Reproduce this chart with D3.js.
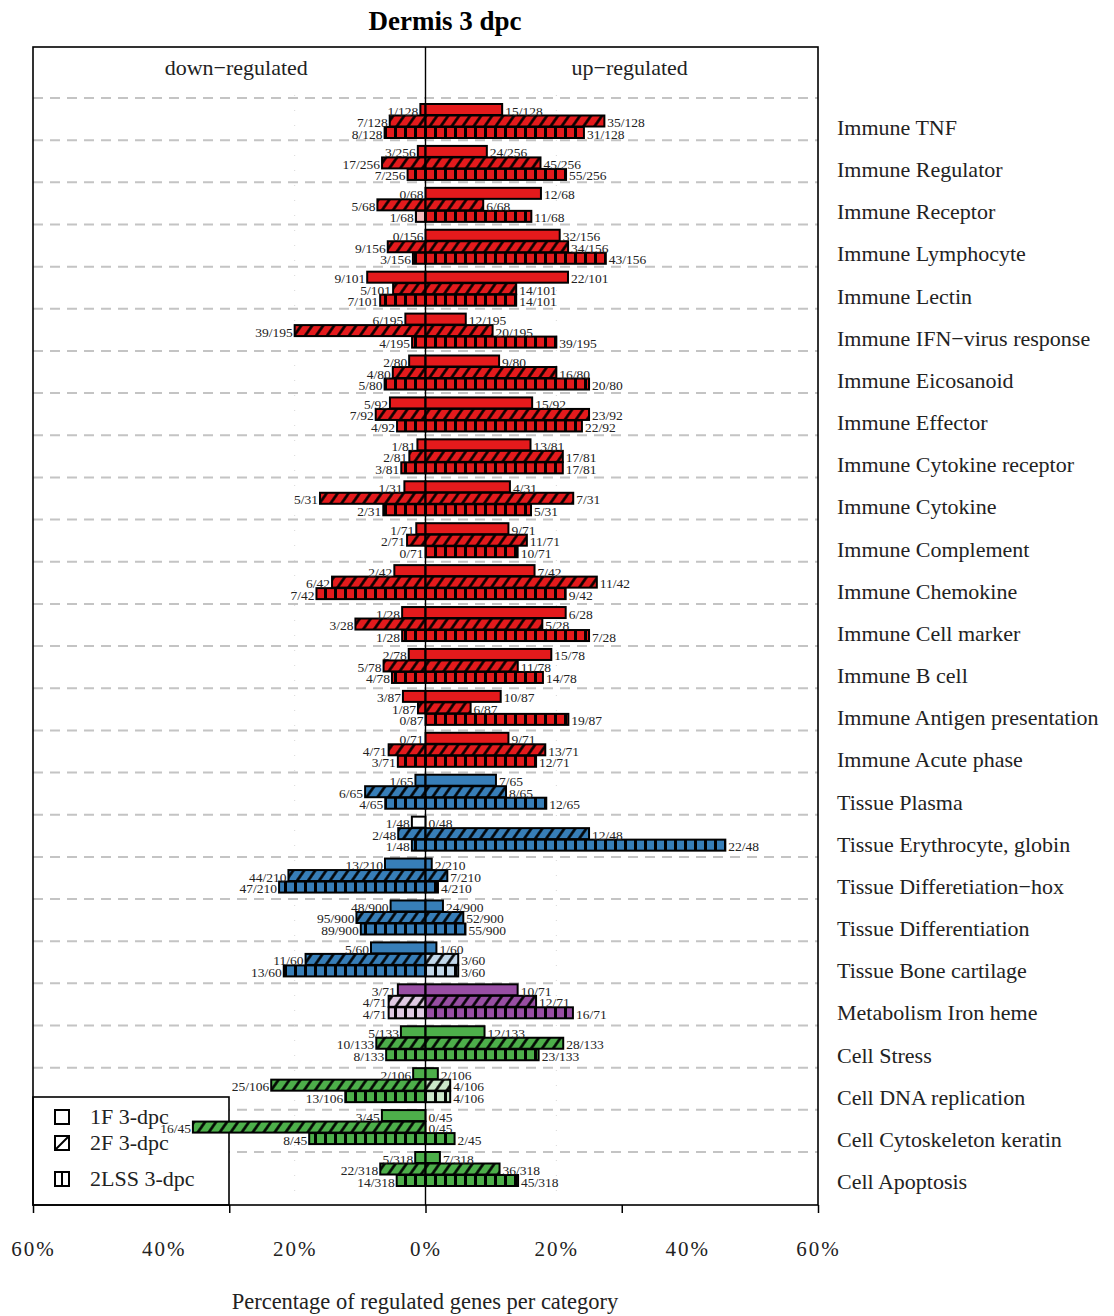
<!DOCTYPE html>
<html>
<head>
<meta charset="utf-8">
<script src="https://cdn.jsdelivr.net/npm/d3@7"></script>
<style>
  body { margin: 0; background: #fff; }
  svg { display: block; }
  text { font-family: "Liberation Serif", "Times New Roman", serif; fill: #222; }
</style>
</head>
<body>
<div id="chart"></div>
<script>
// categories, top to bottom
var categories = ["Immune TNF", "Immune Regulator", "Immune Receptor", "Immune Lymphocyte", "Immune Lectin",
  "Immune IFN\u2212virus response", "Immune Eicosanoid", "Immune Effector", "Immune Cytokine receptor",
  "Immune Cytokine", "Immune Complement", "Immune Chemokine", "Immune Cell marker", "Immune B cell",
  "Immune Antigen presentation", "Immune Acute phase", "Tissue Plasma", "Tissue Erythrocyte, globin",
  "Tissue Differetiation\u2212hox", "Tissue Differentiation", "Tissue Bone cartilage", "Metabolism Iron heme",
  "Cell Stress", "Cell DNA replication", "Cell Cytoskeleton keratin", "Cell Apoptosis"];
// genes per category
var totals = [128, 256, 68, 156, 101, 195, 80, 92, 81, 31, 71, 42, 28, 78, 87, 71, 65, 48, 210, 900, 60, 71, 133, 106, 45, 318];
// regulated gene counts per series
var down1F   = [1, 3, 0, 0, 9, 6, 2, 5, 1, 1, 1, 2, 1, 2, 3, 0, 1, 1, 13, 48, 5, 3, 5, 2, 3, 5];
var up1F     = [15, 24, 12, 32, 22, 12, 9, 15, 13, 4, 9, 7, 6, 15, 10, 9, 7, 0, 2, 24, 1, 10, 12, 2, 0, 7];
var down2F   = [7, 17, 5, 9, 5, 39, 4, 7, 2, 5, 2, 6, 3, 5, 1, 4, 6, 2, 44, 95, 11, 4, 10, 25, 16, 22];
var up2F     = [35, 45, 6, 34, 14, 20, 16, 23, 17, 7, 11, 11, 5, 11, 6, 13, 8, 12, 7, 52, 3, 12, 28, 4, 0, 36];
var down2LSS = [8, 7, 1, 3, 7, 4, 5, 4, 3, 2, 0, 7, 1, 4, 0, 3, 4, 1, 47, 89, 13, 4, 8, 13, 8, 14];
var up2LSS   = [31, 55, 11, 43, 14, 39, 20, 22, 17, 5, 10, 9, 7, 14, 19, 12, 12, 22, 4, 55, 3, 16, 23, 4, 2, 45];
// bars drawn faded (not significant) / empty
var faintBars = [
  ["Immune Receptor", "2LSS", "down"],
  ["Tissue Bone cartilage", "2F", "up"],
  ["Tissue Bone cartilage", "2LSS", "up"],
  ["Metabolism Iron heme", "2F", "down"],
  ["Metabolism Iron heme", "2LSS", "down"],
  ["Cell DNA replication", "2F", "up"],
  ["Cell DNA replication", "2LSS", "up"]
];
var emptyBars = [["Tissue Erythrocyte, globin", "1F", "down"]];
var seriesNames = ["1F", "2F", "2LSS"];
var legendLabels = ["1F 3-dpc", "2F 3-dpc", "2LSS 3-dpc"];
var groupColors = { Immune: "#e41a1c", Tissue: "#377eb8", Metabolism: "#984ea3", Cell: "#4daf4a" };
var tickLabelValues = [-60, -40, -20, 0, 20, 40, 60];
var tickMarkValues = [-60, -30, 0, 30, 60];

var W = 1114, H = 1316;
var plotLeft = 33, plotRight = 818, plotTop = 47, plotBottom = 1205;

var svg = d3.select('#chart').append('svg').attr('width', W).attr('height', H);
var defs = svg.append('defs');

var x = d3.scaleLinear().domain([-60, 60]).range([plotLeft, plotRight]);
var n = categories.length;
var barY = d3.scaleLinear().domain([0, n - 1]).range([104, 1152]);
var sepY = d3.scaleLinear().domain([0, n - 1]).range([98, 1152]);
var labY = d3.scaleLinear().domain([0, n - 1]).range([135, 1189]);
var barH = 11;

function faded(c) { return d3.interpolateRgb(c, '#fff')(0.7); }

// patterns for every fill colour
var patCount = 0;
var patCache = {};
function fillFor(series, color) {
  if (series === '1F') return color;
  var key = series + color;
  if (patCache[key]) return patCache[key];
  var id = 'p' + (patCount++);
  var p;
  if (series === '2F') {
    p = defs.append('pattern').attr('id', id).attr('patternUnits', 'userSpaceOnUse')
      .attr('width', 9).attr('height', 30).attr('patternTransform', 'rotate(35)');
    p.append('rect').attr('width', 9).attr('height', 30).attr('fill', color);
    p.append('line').attr('x1', 1.5).attr('x2', 1.5).attr('y1', 0).attr('y2', 30)
      .attr('stroke', '#000').attr('stroke-width', 2.6);
  } else {
    p = defs.append('pattern').attr('id', id).attr('patternUnits', 'userSpaceOnUse')
      .attr('x', x(0) - 1.5).attr('width', 10).attr('height', 30);
    p.append('rect').attr('width', 10).attr('height', 30).attr('fill', color);
    p.append('rect').attr('width', 3).attr('height', 30).attr('fill', '#000');
  }
  patCache[key] = 'url(#' + id + ')';
  return patCache[key];
}

function isIn(list, cat, s, side) {
  return list.some(function (d) { return d[0] === cat && d[1] === s && d[2] === side; });
}

// build bar records
var bars = [];
var downs = [down1F, down2F, down2LSS], ups = [up1F, up2F, up2LSS];
categories.forEach(function (cat, i) {
  var color = groupColors[cat.split(' ')[0]];
  seriesNames.forEach(function (s, k) {
    ['down', 'up'].forEach(function (side) {
      var count = side === 'down' ? downs[k][i] : ups[k][i];
      var c = color;
      if (isIn(faintBars, cat, s, side)) c = faded(color);
      if (isIn(emptyBars, cat, s, side)) c = '#fff';
      bars.push({ i: i, k: k, s: s, side: side, count: count, total: totals[i],
        pct: count / totals[i] * 100, color: c });
    });
  });
});

// dashed separators
svg.append('g').selectAll('line').data(categories).join('line')
  .attr('x1', plotLeft).attr('x2', plotRight)
  .attr('y1', function (d, i) { return sepY(i); }).attr('y2', function (d, i) { return sepY(i); })
  .attr('stroke', '#c4c4c4').attr('stroke-width', 2).attr('stroke-dasharray', '10,7');

// faint dotted guides
svg.append('g').selectAll('line').data([-20, 20]).join('line')
  .attr('x1', function (d) { return x(d); }).attr('x2', function (d) { return x(d); })
  .attr('y1', 95).attr('y2', plotBottom)
  .attr('stroke', '#d8d8d8').attr('stroke-width', 1).attr('stroke-dasharray', '1,14');

// legend (drawn under the bars)
var leg = svg.append('g');
leg.append('rect').attr('x', plotLeft).attr('y', 1097).attr('width', 196).attr('height', plotBottom - 1097)
  .attr('fill', '#fff').attr('stroke', '#000').attr('stroke-width', 1.6);
var legY = [1117, 1143, 1179];
legendLabels.forEach(function (lab, k) {
  var g = leg.append('g').attr('transform', 'translate(55,' + (legY[k] - 7) + ')');
  g.append('rect').attr('width', 14).attr('height', 14).attr('fill', '#fff')
    .attr('stroke', '#000').attr('stroke-width', 2);
  if (k === 1) g.append('line').attr('x1', 0).attr('y1', 14).attr('x2', 14).attr('y2', 0)
    .attr('stroke', '#000').attr('stroke-width', 2);
  if (k === 2) g.append('line').attr('x1', 7).attr('y1', 0).attr('x2', 7).attr('y2', 14)
    .attr('stroke', '#000').attr('stroke-width', 2);
  leg.append('text').attr('x', 90).attr('y', legY[k] + 7).attr('font-size', 22).text(lab);
});

// bars
svg.append('g').selectAll('rect').data(bars).join('rect')
  .attr('x', function (d) { return d.side === 'down' ? x(-d.pct) : x(0); })
  .attr('y', function (d) { return barY(d.i) + d.k * 11.5; })
  .attr('width', function (d) { return Math.abs(x(d.pct) - x(0)); })
  .attr('height', barH)
  .attr('fill', function (d) { return fillFor(d.s, d.color); })
  .attr('stroke', '#000').attr('stroke-width', 2);

// bar labels
svg.append('g').selectAll('text').data(bars).join('text')
  .attr('x', function (d) { return d.side === 'down' ? x(-d.pct) - 2 : x(d.pct) + 3; })
  .attr('y', function (d) { return barY(d.i) + d.k * 11.5 + barH + 0.5; })
  .attr('text-anchor', function (d) { return d.side === 'down' ? 'end' : 'start'; })
  .attr('font-size', 13.5)
  .text(function (d) { return d.count + '/' + d.total; });

// centre line and frame
svg.append('line').attr('x1', x(0)).attr('x2', x(0)).attr('y1', plotTop).attr('y2', plotBottom)
  .attr('stroke', '#000').attr('stroke-width', 1.4);
svg.append('rect').attr('x', plotLeft).attr('y', plotTop)
  .attr('width', plotRight - plotLeft).attr('height', plotBottom - plotTop)
  .attr('fill', 'none').attr('stroke', '#000').attr('stroke-width', 1.6);

// headers
svg.append('text').attr('x', 445).attr('y', 30).attr('text-anchor', 'middle')
  .attr('font-size', 27).attr('font-weight', 'bold').style('fill', '#000').text('Dermis 3 dpc');
svg.append('text').attr('x', x(-30) + 7).attr('y', 75).attr('text-anchor', 'middle')
  .attr('font-size', 22).text('down\u2212regulated');
svg.append('text').attr('x', x(30) + 8).attr('y', 75).attr('text-anchor', 'middle')
  .attr('font-size', 22).text('up\u2212regulated');

// category labels
svg.append('g').selectAll('text').data(categories).join('text')
  .attr('x', 837).attr('y', function (d, i) { return labY(i); })
  .attr('font-size', 22).text(function (d) { return d; });

// x axis: tick marks and labels
var axisG = svg.append('g').attr('transform', 'translate(0,' + plotBottom + ')');
axisG.call(d3.axisBottom(x).tickValues(tickMarkValues).tickSize(8).tickFormat(''));
axisG.select('.domain').remove();
axisG.selectAll('line').attr('stroke-width', 1.5);
var axisL = svg.append('g').attr('transform', 'translate(0,' + plotBottom + ')');
axisL.call(d3.axisBottom(x).tickValues(tickLabelValues).tickSize(0).tickPadding(36)
  .tickFormat(function (d) { return Math.abs(d) + '%'; }));
axisL.select('.domain').remove();
axisL.selectAll('text').attr('font-size', 21).attr('font-family', '"Liberation Serif", serif')
  .style('letter-spacing', '2px').style('fill', '#222');

svg.append('text').attr('x', 425).attr('y', 1309).attr('text-anchor', 'middle')
  .attr('font-size', 22.5).text('Percentage of regulated genes per category');
</script>
</body>
</html>
